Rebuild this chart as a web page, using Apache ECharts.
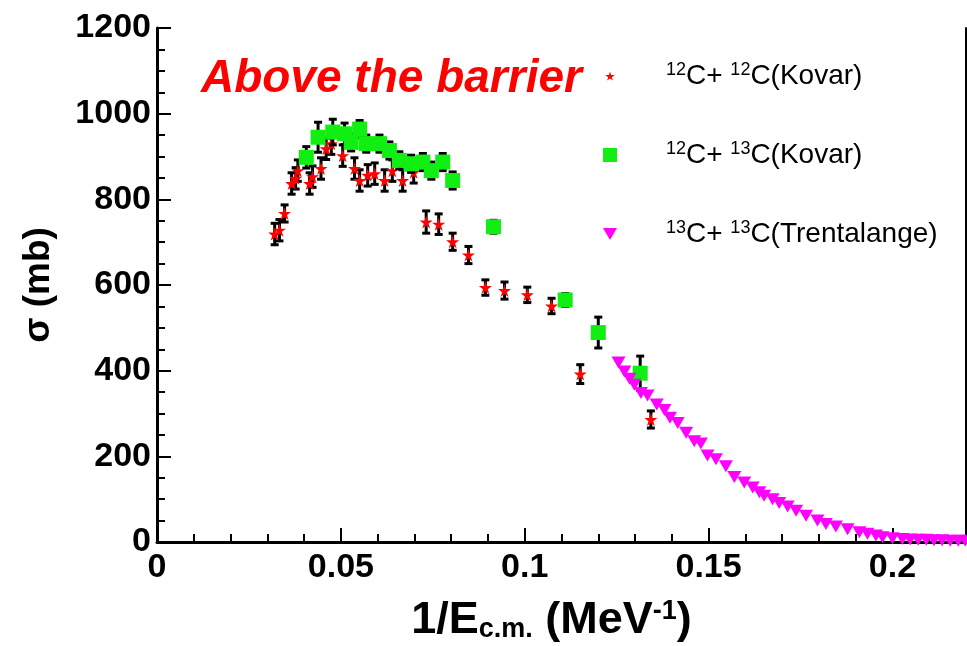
<!DOCTYPE html>
<html>
<head>
<meta charset="utf-8">
<script src="https://cdn.jsdelivr.net/npm/echarts@6/dist/echarts.min.js"></script>
<style>
  html, body { margin: 0; padding: 0; background: #fff; }
  #main { width: 967px; height: 646px; }
</style>
</head>
<body>
<div id="main"></div>
<script>
// 12C+12C (Kovar): x = 1/Ecm (MeV^-1), y = sigma (mb), err = +/- (mb)
var kovar12X = [0.0320, 0.0333, 0.0347, 0.0366, 0.0377, 0.0383, 0.0415, 0.0423, 0.0446, 0.0460, 0.0474, 0.0505, 0.0537, 0.0551, 0.0573, 0.0592, 0.0619, 0.0640, 0.0668, 0.0698, 0.0732, 0.0766, 0.0804, 0.0847, 0.0893, 0.0945, 0.1007, 0.1073, 0.1151, 0.1343];
var kovar12Y = [719, 728, 767, 837, 849, 867, 837, 853, 872, 918, 930, 902, 872, 844, 856, 860, 844, 867, 844, 863, 747, 742, 701, 670, 594, 587, 577, 551, 392, 286];
var kovar12Err = [25, 25, 20, 25, 25, 25, 25, 25, 25, 25, 25, 25, 25, 25, 25, 25, 25, 25, 25, 25, 26, 24, 20, 20, 18, 20, 18, 18, 22, 20];

// 12C+13C (Kovar)
var kovar13X = [0.0406, 0.0438, 0.0478, 0.0510, 0.0528, 0.0551, 0.0569, 0.0605, 0.0632, 0.0659, 0.0691, 0.0723, 0.0746, 0.0777, 0.0804, 0.0915, 0.1110, 0.1200, 0.1314];
var kovar13Y = [898, 945, 957, 953, 933, 964, 930, 930, 914, 891, 883, 887, 867, 887, 844, 736, 565, 489, 394];
var kovar13Err = [25, 35, 30, 25, 20, 20, 20, 20, 20, 20, 20, 20, 20, 20, 20, 15, 15, 36, 40];

// 13C+13C (Trentalange)
var trentX = [0.1255, 0.1271, 0.1285, 0.1298, 0.1316, 0.1334, 0.1359, 0.1380, 0.1395, 0.1416, 0.1439, 0.1461, 0.1479, 0.1497, 0.1520, 0.1547, 0.1570, 0.1597, 0.1620, 0.1638, 0.1651, 0.1674, 0.1692, 0.1715, 0.1738, 0.1765, 0.1796, 0.1819, 0.1846, 0.1878, 0.1910, 0.1932, 0.1955, 0.1973, 0.2000, 0.2027, 0.2048, 0.2070, 0.2092, 0.2113, 0.2135, 0.2157, 0.2179, 0.2198];
var trentY = [419, 398, 381, 367, 348, 342, 321, 308, 290, 278, 255, 235, 230, 202, 193, 177, 152, 139, 127, 116, 108, 100, 91, 83, 73, 61, 50, 42, 36, 30, 23, 19, 15, 11, 9, 7, 6, 5, 5, 4, 4, 3, 3, 3];

var xTicks = [0, 0.05, 0.1, 0.15, 0.2];
var yTicks = [0, 200, 400, 600, 800, 1000, 1200];

var FONT = 'Liberation Sans';
var starPath = 'path://M50,0 L61,35 L98,35 L68,57 L79,91 L50,70 L21,91 L32,57 L2,35 L39,35 Z';
// same star with an empty margin so that the legend icon comes out smaller
var starSmall = 'path://M-20,-25 M120,115 M50,0 L61,35 L98,35 L68,57 L79,91 L50,70 L21,91 L32,57 L2,35 L39,35 Z';
var triDown = 'path://M0,0 L100,0 L50,87 Z';

function pairs(xs, ys) {
    return xs.map(function (x, i) { return [x, ys[i]]; });
}
function bars(xs, ys, es) {
    return xs.map(function (x, i) { return [x, ys[i] - es[i], ys[i] + es[i]]; });
}
function renderBar(params, api) {
    var lo = api.coord([api.value(0), api.value(1)]);
    var hi = api.coord([api.value(0), api.value(2)]);
    var hw = 4;
    var st = {stroke: '#000', lineWidth: 3};
    return {
        type: 'group',
        children: [
            {type: 'line', shape: {x1: lo[0], y1: lo[1], x2: hi[0], y2: hi[1]}, style: st},
            {type: 'line', shape: {x1: lo[0] - hw, y1: lo[1], x2: lo[0] + hw, y2: lo[1]}, style: st},
            {type: 'line', shape: {x1: hi[0] - hw, y1: hi[1], x2: hi[0] + hw, y2: hi[1]}, style: st}
        ]
    };
}

var legendText = {
    'c1212': '{s|12}{b|C+ }{s|12}{b|C(Kovar)}',
    'c1213': '{s|12}{b|C+ }{s|13}{b|C(Kovar)}',
    'c1313': '{s|13}{b|C+ }{s|13}{b|C(Trentalange)}'
};

var myChart = echarts.init(document.getElementById('main'));
var option = {
    animation: false,
    backgroundColor: '#fff',
    title: {
        text: 'Above the barrier',
        left: 196,
        top: 51,
        textStyle: {color: '#ff0000', fontFamily: FONT, fontWeight: 'bold', fontStyle: 'italic', fontSize: 46}
    },
    legend: {
        orient: 'vertical',
        left: 598,
        top: 56,
        itemWidth: 14,
        itemHeight: 14,
        itemGap: 50,
        selectedMode: false,
        data: [
            {name: 'c1212', icon: starSmall, itemStyle: {color: '#ff0000'}},
            {name: 'c1213', icon: 'rect', itemStyle: {color: '#11ee11'}},
            {name: 'c1313', icon: triDown, itemStyle: {color: '#ff00ff'}}
        ],
        formatter: function (name) { return legendText[name]; },
        textStyle: {
            padding: [0, 0, 0, 44],
            rich: {
                s: {fontFamily: FONT, fontSize: 18, color: '#000', verticalAlign: 'top', padding: [0, 0, 12, 0]},
                b: {fontFamily: FONT, fontSize: 28, color: '#000'}
            }
        }
    },
    grid: {left: 157, right: 1, top: 28, bottom: 104, containLabel: false, outerBoundsMode: 'none'},
    xAxis: {
        type: 'value',
        min: 0,
        max: 0.22,
        interval: 0.05,
        name: '{b|1/E}{sub|c.m.}{b| (MeV}{sup|-1}{b|)}{pad|}',
        nameLocation: 'middle',
        nameGap: 56,
        nameTextStyle: {
            rich: {
                b: {fontFamily: FONT, fontSize: 45, fontWeight: 'bold', color: '#000'},
                sub: {fontFamily: FONT, fontSize: 27, fontWeight: 'bold', color: '#000', verticalAlign: 'bottom', padding: [18, 0, 0, 0]},
                sup: {fontFamily: FONT, fontSize: 27, fontWeight: 'bold', color: '#000', verticalAlign: 'top', padding: [0, 0, 18, 0]},
                pad: {width: 20}
            }
        },
        axisLine: {show: true, onZero: false, lineStyle: {color: '#000', width: 3}},
        axisTick: {show: true, inside: true, length: 14, lineStyle: {color: '#000', width: 2}},
        minorTick: {show: true, splitNumber: 5, length: 8, lineStyle: {color: '#000', width: 2}},
        splitLine: {show: false},
        axisLabel: {
            margin: 9,
            fontFamily: FONT,
            fontSize: 34,
            fontWeight: 'bold',
            color: '#000',
            formatter: function (v) {
                for (var i = 0; i < xTicks.length; i++) {
                    if (Math.abs(v - xTicks[i]) < 1e-9) return String(xTicks[i]);
                }
                return '';
            }
        }
    },
    yAxis: [{
        type: 'value',
        min: 0,
        max: 1200,
        interval: 200,
        name: 'σ (mb)',
        nameLocation: 'middle',
        nameGap: 100,
        nameRotate: 90,
        nameTextStyle: {fontFamily: FONT, fontSize: 37, fontWeight: 'bold', color: '#000'},
        axisLine: {show: true, lineStyle: {color: '#000', width: 3}},
        axisTick: {show: true, inside: true, length: 14, lineStyle: {color: '#000', width: 2}},
        minorTick: {show: true, splitNumber: 4, length: 8, lineStyle: {color: '#000', width: 2}},
        splitLine: {show: false},
        axisLabel: {
            margin: 6,
            fontFamily: FONT,
            fontSize: 34,
            fontWeight: 'bold',
            color: '#000',
            formatter: function (v) { return yTicks.indexOf(v) >= 0 ? String(v) : ''; }
        }
    }, {
        type: 'value',
        position: 'right',
        min: 0,
        max: 1200,
        axisLine: {show: true, lineStyle: {color: '#000', width: 2}},
        axisTick: {show: false},
        axisLabel: {show: false},
        splitLine: {show: false}
    }],
    series: [
        {
            name: 'c1212bars',
            type: 'custom',
            renderItem: renderBar,
            encode: {x: 0, y: [1, 2]},
            data: bars(kovar12X, kovar12Y, kovar12Err),
            z: 2
        },
        {
            name: 'c1212',
            type: 'scatter',
            symbol: starPath,
            symbolSize: 13,
            itemStyle: {color: '#ff0000', opacity: 1},
            data: pairs(kovar12X, kovar12Y),
            z: 3
        },
        {
            name: 'c1213bars',
            type: 'custom',
            renderItem: renderBar,
            encode: {x: 0, y: [1, 2]},
            data: bars(kovar13X, kovar13Y, kovar13Err),
            z: 4
        },
        {
            name: 'c1213',
            type: 'scatter',
            symbol: 'rect',
            symbolSize: 15,
            itemStyle: {color: '#11ee11', opacity: 1},
            data: pairs(kovar13X, kovar13Y),
            z: 5
        },
        {
            name: 'c1313',
            type: 'scatter',
            symbol: triDown,
            symbolSize: [14, 12],
            itemStyle: {color: '#ff00ff', opacity: 1},
            data: pairs(trentX, trentY),
            z: 6
        }
    ]
};
myChart.setOption(option);
window.onresize = myChart.resize;
</script>
</body>
</html>
